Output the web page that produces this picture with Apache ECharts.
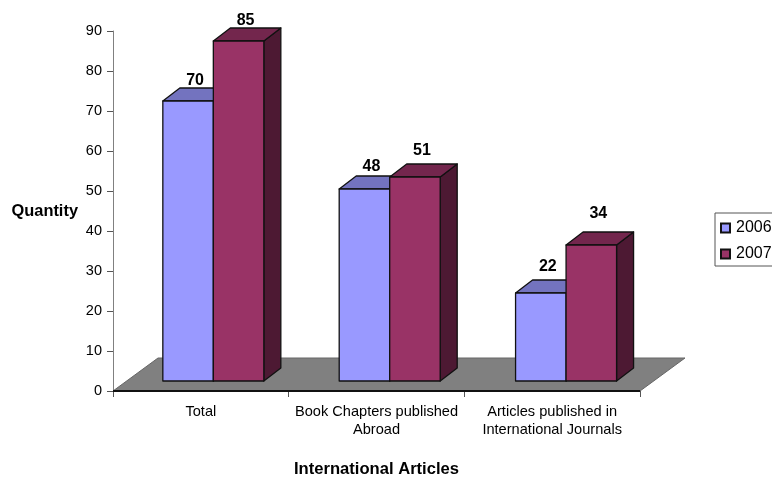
<!DOCTYPE html>
<html><head><meta charset="utf-8">
<style>html,body{margin:0;padding:0;background:#fff;overflow:hidden}#c{width:772px;height:477px}</style>
<script src="https://cdn.jsdelivr.net/npm/echarts@6/dist/echarts.min.js"></script>
</head><body><div id="c"></div>
<script>
var categories = ['Total', 'Book Chapters published\nAbroad', 'Articles published in\nInternational Journals'];
var values2006 = [70, 48, 22];
var values2007 = [85, 51, 34];
var yTicks = {min: 0, max: 90, interval: 10};

var FONT = '"Liberation Sans", Arial, sans-serif';
var DEPTH_X = 17, DEPTH_Y = 13, LIFT = 10, BAR_W = 50.5;
var FLOOR_X = 45, FLOOR_Y = 33;

function barRenderer(offset, front, top, side, labelGaps) {
  return function (params, api) {
    var i = api.value(0), v = api.value(1);
    var p = api.coord([i, v]);
    var x0 = p[0] + offset + i * 0.7, x1 = x0 + BAR_W;
    var yTop = p[1] - LIFT;
    var yBase = api.coord([i, 0])[1] - LIFT;
    var stroke = {stroke: '#111', lineWidth: 1.3, lineJoin: 'round'};
    function poly(points, fill) {
      return {type: 'polygon', shape: {points: points}, style: Object.assign({fill: fill}, stroke)};
    }
    return {type: 'group', children: [
      poly([[x1, yTop], [x1 + DEPTH_X, yTop - DEPTH_Y], [x1 + DEPTH_X, yBase - DEPTH_Y], [x1, yBase]], side),
      poly([[x0, yTop], [x0 + DEPTH_X, yTop - DEPTH_Y], [x1 + DEPTH_X, yTop - DEPTH_Y], [x1, yTop]], top),
      poly([[x0, yTop], [x1, yTop], [x1, yBase], [x0, yBase]], front),
      {type: 'text', style: {
        text: String(v), x: x0 + BAR_W / 2 + 7, y: yTop - DEPTH_Y - labelGaps[i],
        textAlign: 'center', textVerticalAlign: 'middle',
        font: 'bold 16px ' + FONT, fill: '#000'
      }}
    ]};
  };
}

var option = {
  animation: false,
  backgroundColor: '#fff',
  grid: {left: 113, right: 132, top: 31, bottom: 86, outerBoundsMode: 'none'},
  legend: {
    data: ['2006', '2007'], orient: 'vertical', left: 715, top: 213,
    itemWidth: 9, itemHeight: 9, itemGap: 10,
    padding: [7, 6, 4, 5], borderColor: '#555', borderWidth: 1,
    icon: 'rect', selectedMode: false,
    textStyle: {fontFamily: FONT, fontSize: 16, color: '#000', padding: [1, 0, 0, 1]}
  },
  xAxis: {
    type: 'category', data: categories,
    name: 'International Articles', nameLocation: 'middle', nameGap: 70,
    nameTextStyle: {fontFamily: FONT, fontSize: 16.6, fontWeight: 'bold', color: '#000'},
    axisLine: {lineStyle: {color: '#808080', width: 1}},
    axisTick: {show: true, alignWithLabel: false, length: 6, lineStyle: {color: '#555'}},
    axisLabel: {fontFamily: FONT, fontSize: 14.6, color: '#000', lineHeight: 18, margin: 12, interval: 0},
    splitLine: {show: false}
  },
  yAxis: {
    type: 'value', min: yTicks.min, max: yTicks.max, interval: yTicks.interval,
    name: 'Quantity', nameLocation: 'middle', nameRotate: 0, nameGap: 35,
    nameTextStyle: {fontFamily: FONT, fontSize: 16.4, fontWeight: 'bold', color: '#000', padding: [3, 0, 0, 0]},
    axisLine: {show: true, lineStyle: {color: '#808080', width: 1}},
    axisTick: {show: true, length: 6, lineStyle: {color: '#555'}},
    axisLabel: {fontFamily: FONT, fontSize: 14.5, color: '#000', margin: 11, padding: [1, 0, 0, 0]},
    splitLine: {show: false}
  },
  series: [
    {
      type: 'custom', name: 'floor', data: [[0]], silent: true, clip: false, z: 1,
      encode: {x: 0}, legendHoverLink: false,
      renderItem: function (params) {
        var c = params.coordSys, b = c.y + c.height, l = c.x, r = c.x + c.width;
        return {type: 'group', children: [
          {type: 'polygon', shape: {points: [[l, b], [r, b], [r + FLOOR_X, b - FLOOR_Y], [l + FLOOR_X, b - FLOOR_Y]]},
           style: {fill: '#808080', stroke: '#666', lineWidth: 1}},
          {type: 'line', shape: {x1: l, y1: b, x2: r, y2: b}, style: {stroke: '#111', lineWidth: 2}}
        ]};
      }
    },
    {
      type: 'custom', name: '2006', z: 2, clip: false,
      itemStyle: {color: '#9999FF', borderColor: '#111', borderWidth: 1},
      data: categories.map(function (c, i) { return [i, values2006[i]]; }),
      encode: {x: 0, y: 1},
      renderItem: barRenderer(-38, '#9999FF', '#7373BF', '#4D4D80', [7, 9, 13])
    },
    {
      type: 'custom', name: '2007', z: 3, clip: false,
      itemStyle: {color: '#993366', borderColor: '#111', borderWidth: 1},
      data: categories.map(function (c, i) { return [i, values2007[i]]; }),
      encode: {x: 0, y: 1},
      renderItem: barRenderer(12.5, '#993366', '#73264D', '#4D1933', [7, 13, 18])
    }
  ]
};
echarts.init(document.getElementById('c'), null, {renderer: 'canvas'}).setOption(option);
</script></body></html>
